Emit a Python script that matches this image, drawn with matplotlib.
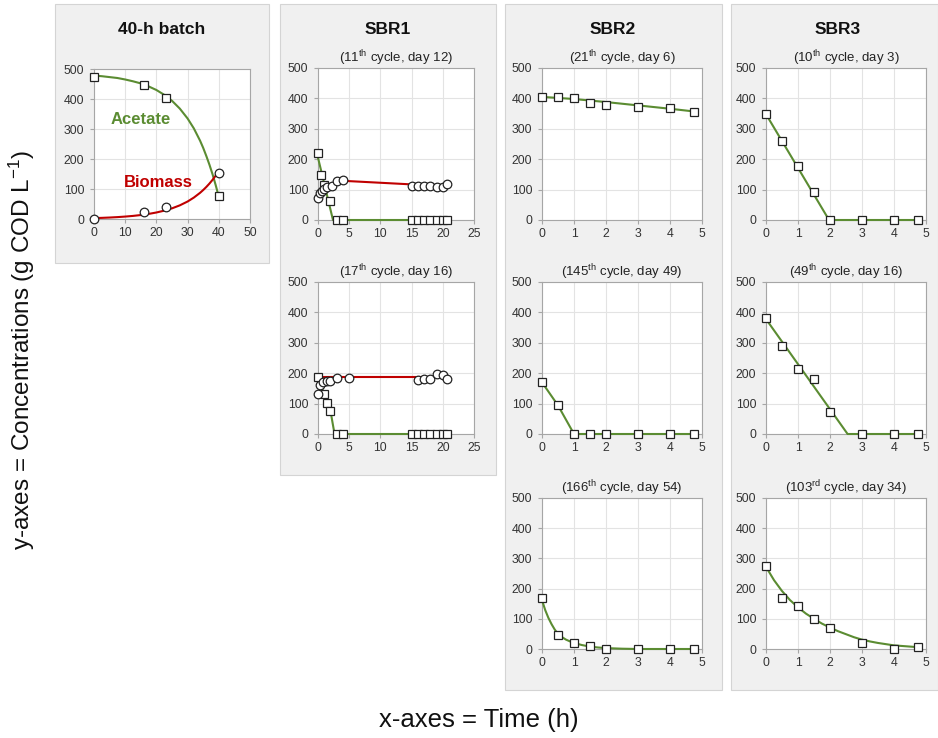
import matplotlib
matplotlib.use('Agg')
import matplotlib.pyplot as plt
from matplotlib.patches import Rectangle

plt.rcParams['font.family'] = ['Liberation Sans', 'DejaVu Sans']
plt.rcParams['mathtext.fontset'] = 'custom'
plt.rcParams['mathtext.rm'] = 'Liberation Sans'
plt.rcParams['mathtext.it'] = 'Liberation Sans:italic'
plt.rcParams['mathtext.bf'] = 'Liberation Sans:bold'

GREEN = '#5b8c32'
RED = '#c00000'

# ---------------- data ----------------
# 40-h batch
batch_t_ac = [0, 16, 23, 40]
batch_ac = [475, 448, 405, 78]
batch_t_bm = [0, 16, 23, 40]
batch_bm = [0, 22, 40, 155]
batch_fit_t = [0, 2.5, 5, 7.5, 10, 12.5, 15, 17.5, 20, 22.5, 25, 27.5, 30,
               32, 34, 35, 36, 37, 38, 39, 39.7]
batch_fit_ac = [478, 476, 473, 470, 465, 459, 452, 442, 430, 414, 394, 368, 335,
                302, 261, 237, 210, 181, 149, 113, 86]
batch_fit_bm_t = [0, 2.5, 5, 7.5, 10, 12.5, 15, 17.5, 20, 22.5, 25, 27.5, 30,
                  32, 34, 35, 36, 37, 38, 39]
batch_fit_bm = [3, 3.8, 4.9, 6.3, 8.1, 10.3, 13.2, 16.9, 21.7, 27.8, 35.5, 45.5, 58.3,
                71.4, 87.3, 96.6, 106.8, 118.1, 130.6, 144.5]

# SBR1, 11th cycle
s1a_t_ac = [0, 0.5, 1.0, 2.0, 3, 4, 15, 16, 17, 18, 19, 20, 20.7]
s1a_ac = [222, 148, 115, 62, 0, 0, 0, 0, 0, 0, 0, 0, 0]
s1a_t_bm = [0, 0.3, 0.6, 1.0, 1.4, 2.2, 3.0, 4.0, 15, 16, 17, 18, 19, 20, 20.7]
s1a_bm = [73, 88, 95, 101, 108, 113, 128, 133, 112, 111, 112, 112, 108, 110, 117]
s1a_fit_t_ac = [0, 2.4, 20.7]
s1a_fit_ac = [205, 0, 0]
s1a_fit_t_bm = [3, 20.7]
s1a_fit_bm = [130, 111]

# SBR1, 17th cycle
s1b_t_ac = [0, 1.0, 1.5, 2.0, 3, 4, 15, 16, 17, 18, 19, 20, 20.7]
s1b_ac = [187, 130, 102, 76, 0, 0, 0, 0, 0, 0, 0, 0, 0]
s1b_t_bm = [0, 0.3, 0.85, 1.4, 1.9, 3.0, 5.0, 16, 17, 18, 19, 20, 20.6]
s1b_bm = [132, 160, 170, 175, 174, 185, 183, 178, 181, 180, 198, 194, 181]
s1b_fit_t_ac = [0, 1.0, 1.5, 2.0, 2.65, 20.7]
s1b_fit_ac = [188, 130, 103, 76, 0, 0]
s1b_fit_t_bm = [0, 20.7]
s1b_fit_bm = [186, 186]

# SBR2 / SBR3 sampling times
t_short = [0, 0.5, 1, 1.5, 2, 3, 4, 4.75]

s2a_ac = [405, 404, 401, 386, 379, 372, 368, 354]
s2a_fit_t = [0, 1, 2, 3, 4, 4.75]
s2a_fit = [405, 398, 388, 377, 366, 357]

s2b_ac = [170, 94, 0, 0, 0, 0, 0, 0]
s2b_fit_t = [0, 0.5, 1, 4.75]
s2b_fit = [170, 94, 0, 0]

s2c_ac = [168, 46, 21, 10, 0, 0, 0, 0]
s2c_fit_t = [0, 0.1, 0.2, 0.3, 0.4, 0.5, 0.6, 0.75, 0.9, 1, 1.25, 1.5, 1.75,
             2, 2.5, 3, 4.75]
s2c_fit = [162, 129, 103, 82, 64, 50, 41, 31, 24, 20, 13, 8, 5, 3, 1, 0, 0]

s3a_ac = [349, 260, 178, 91, 0, 0, 0, 0]
s3a_fit_t = [0, 1.97, 4.75]
s3a_fit = [348, 0, 0]

s3b_ac = [381, 291, 213, 180, 73, 0, 0, 0]
s3b_fit_t = [0, 2.55, 4.75]
s3b_fit = [378, 0, 0]

s3c_ac = [276, 168, 142, 100, 71, 19, 0, 5]
s3c_fit_t = [0, 0.25, 0.5, 0.75, 1, 1.25, 1.5, 1.75, 2, 2.25, 2.5, 2.75, 3,
             3.25, 3.5, 3.75, 4, 4.25, 4.5, 4.75]
s3c_fit = [272, 228, 192, 162, 138, 117, 100, 84, 71, 59, 49, 39, 31,
           25, 20, 16, 12, 10, 8, 6]

y_ticks = [0, 100, 200, 300, 400, 500]

# ---------------- layout ----------------
W, H = 938, 738
fig = plt.figure(figsize=(W / 100, H / 100), dpi=100)
fig.patch.set_facecolor('white')


def panel(x0, y0, x1, y1):
    fig.patches.append(Rectangle((x0 / W, 1 - y1 / H), (x1 - x0) / W, (y1 - y0) / H,
                                 transform=fig.transFigure, facecolor='#f0f0f0',
                                 edgecolor='#d4d4d4', lw=0.8, zorder=-5))


def make_ax(l, t, r, b, xmax, xstep, subtitle=None):
    ax = fig.add_axes([l / W, 1 - b / H, (r - l) / W, (b - t) / H])
    ax.set_zorder(2)
    ax.set_facecolor('white')
    ax.set_xlim(0, xmax)
    ax.set_ylim(0, 500)
    ax.set_xticks([i * xstep for i in range(int(round(xmax / xstep)) + 1)])
    ax.set_yticks(y_ticks)
    ax.grid(True, color='#e3e3e3', lw=0.8)
    ax.set_axisbelow(True)
    for s in ax.spines.values():
        s.set_color('#a6a6a6')
        s.set_linewidth(0.8)
    ax.tick_params(labelsize=8.8, colors='#a6a6a6', labelcolor='#333333',
                   length=3, width=0.8)
    ax.tick_params(axis='y', pad=4)
    ax.tick_params(axis='x', pad=3)
    if subtitle:
        ax.set_title(subtitle, fontsize=9.5, color='#222222', pad=4)
    return ax


def sq(ax, t, v):
    ax.plot(t, v, ls='none', marker='s', ms=5.4, mfc='white', mec='#222222',
            mew=0.9, zorder=5, clip_on=False)


def ci(ax, t, v):
    ax.plot(t, v, ls='none', marker='o', ms=6.2, mfc='white', mec='#222222',
            mew=0.9, zorder=5, clip_on=False)


def ln(ax, t, v, c):
    ax.plot(t, v, color=c, lw=1.5, zorder=3, clip_on=False)


panel(55, 4, 269, 263)
panel(280, 4, 496, 475)
panel(505, 4, 722, 690)
panel(731, 4, 938, 690)

# titles
for x, txt in [(162, '40-h batch'), (388, 'SBR1'), (613, 'SBR2'), (838, 'SBR3')]:
    fig.text(x / W, 1 - 30 / H, txt, ha='center', va='center', fontsize=12.5,
             fontweight='bold', color='#111111')

# batch
ax = make_ax(94, 69, 250, 219, 50, 10)
ln(ax, batch_fit_t, batch_fit_ac, GREEN)
ln(ax, batch_fit_bm_t, batch_fit_bm, RED)
sq(ax, batch_t_ac, batch_ac)
ci(ax, batch_t_bm, batch_bm)
ax.text(15, 330, 'Acetate', color=GREEN, fontsize=12, fontweight='bold',
        ha='center', va='center')
ax.text(20.5, 123, 'Biomass', color=RED, fontsize=12, fontweight='bold',
        ha='center', va='center')

# SBR1
ax = make_ax(318, 68, 474, 220, 25, 5, '(11$^{\\mathrm{th}}$ cycle, day 12)')
ln(ax, s1a_fit_t_ac, s1a_fit_ac, GREEN)
ln(ax, s1a_fit_t_bm, s1a_fit_bm, RED)
sq(ax, s1a_t_ac, s1a_ac)
ci(ax, s1a_t_bm, s1a_bm)

ax = make_ax(318, 282, 474, 434, 25, 5, '(17$^{\\mathrm{th}}$ cycle, day 16)')
ln(ax, s1b_fit_t_ac, s1b_fit_ac, GREEN)
ln(ax, s1b_fit_t_bm, s1b_fit_bm, RED)
sq(ax, s1b_t_ac, s1b_ac)
ci(ax, s1b_t_bm, s1b_bm)

# SBR2
ax = make_ax(542, 68, 702, 220, 5, 1, '(21$^{\\mathrm{th}}$ cycle, day 6)')
ln(ax, s2a_fit_t, s2a_fit, GREEN)
sq(ax, t_short, s2a_ac)

ax = make_ax(542, 282, 702, 434, 5, 1, '(145$^{\\mathrm{th}}$ cycle, day 49)')
ln(ax, s2b_fit_t, s2b_fit, GREEN)
sq(ax, t_short, s2b_ac)

ax = make_ax(542, 498, 702, 649, 5, 1, '(166$^{\\mathrm{th}}$ cycle, day 54)')
ln(ax, s2c_fit_t, s2c_fit, GREEN)
sq(ax, t_short, s2c_ac)

# SBR3
ax = make_ax(766, 68, 926, 220, 5, 1, '(10$^{\\mathrm{th}}$ cycle, day 3)')
ln(ax, s3a_fit_t, s3a_fit, GREEN)
sq(ax, t_short, s3a_ac)

ax = make_ax(766, 282, 926, 434, 5, 1, '(49$^{\\mathrm{th}}$ cycle, day 16)')
ln(ax, s3b_fit_t, s3b_fit, GREEN)
sq(ax, t_short, s3b_ac)

ax = make_ax(766, 498, 926, 649, 5, 1, '(103$^{\\mathrm{rd}}$ cycle, day 34)')
ln(ax, s3c_fit_t, s3c_fit, GREEN)
sq(ax, t_short, s3c_ac)

# axis labels
fig.text(22 / W, 1 - 350 / H, 'y-axes = Concentrations (g COD L$^{\\mathrm{-1}}$)',
         rotation=90, ha='center', va='center', fontsize=17.5, color='#111111')
fig.text(479 / W, 1 - 720 / H, 'x-axes = Time (h)', ha='center', va='center',
         fontsize=18.5, color='#111111')

fig.savefig('out.png', dpi=100, facecolor='white')
